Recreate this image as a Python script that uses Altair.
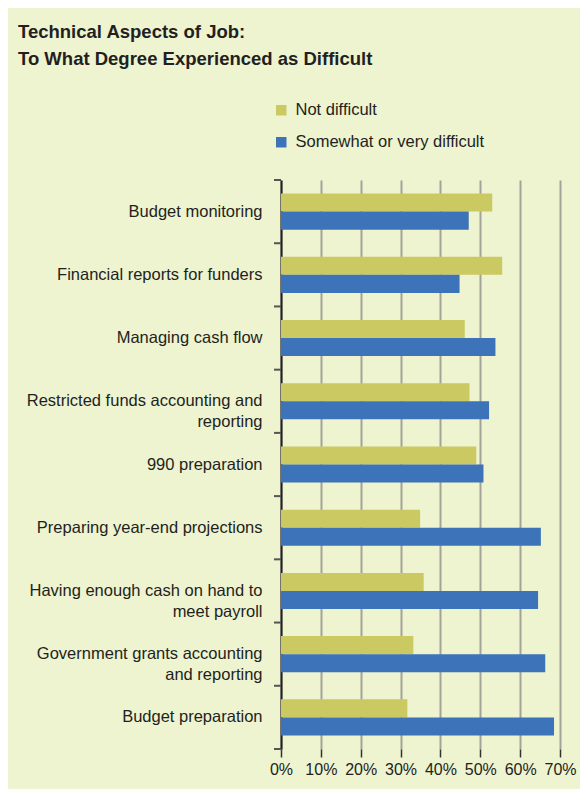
import altair as alt
import pandas as pd

categories = [
    "Budget monitoring",
    "Financial reports for funders",
    "Managing cash flow",
    "Restricted funds accounting and|reporting",
    "990 preparation",
    "Preparing year-end projections",
    "Having enough cash on hand to|meet payroll",
    "Government grants accounting|and reporting",
    "Budget preparation",
]
not_difficult = [53.0, 55.5, 46.1, 47.3, 49.0, 34.9, 35.8, 33.2, 31.7]
difficult = [47.1, 44.8, 53.8, 52.2, 50.8, 65.2, 64.5, 66.3, 68.5]
series = ["Not difficult", "Somewhat or very difficult"]
colors = ["#cbc962", "#3c73b9"]
x_ticks = [0, 10, 20, 30, 40, 50, 60, 70]

rows = []
for c, a, b in zip(categories, not_difficult, difficult):
    rows.append({"category": c, "series": series[0], "value": a})
    rows.append({"category": c, "series": series[1], "value": b})
df = pd.DataFrame(rows)
cat_df = pd.DataFrame({"category": categories})
last_df = pd.DataFrame({"category": categories[-1:]})

FONT = "Liberation Sans"
BG = "#eef3d0"

ysc = alt.Scale(paddingInner=0, paddingOuter=0)

bars = alt.Chart(df).mark_bar().encode(
    x=alt.X(
        "value:Q",
        scale=alt.Scale(domain=[0, 70], nice=False),
        axis=alt.Axis(
            values=x_ticks,
            labelExpr="datum.value + '%'",
            labelOverlap=False,
            labelFlush=False,
            grid=True,
            gridColor="#a3a39a",
            gridWidth=2,
            domain=False,
            tickColor="#333333",
            tickSize=8,
            tickWidth=1.5,
            labelFontSize=16,
            labelColor="#231f20",
            labelPadding=4,
            title=None,
        ),
    ),
    y=alt.Y(
        "category:N",
        sort=categories,
        scale=ysc,
        axis=alt.Axis(
            title=None,
            labelExpr="split(datum.label, '|')",
            ticks=False,
            grid=False,
            domainColor="#231f20",
            domainWidth=2,
            labelFontSize=16.5,
            labelColor="#231f20",
            labelPadding=19,
            labelLimit=320,
            labelLineHeight=21,
        ),
    ),
    yOffset=alt.YOffset("series:N", sort=series, scale=alt.Scale(paddingOuter=0.75, paddingInner=0)),
    color=alt.Color(
        "series:N",
        sort=series,
        scale=alt.Scale(domain=series, range=colors),
        legend=alt.Legend(
            title=None,
            orient="none",
            legendX=-8,
            legendY=-78,
            symbolType="square",
            symbolSize=110,
            symbolStrokeWidth=0,
            labelFontSize=16.5,
            labelColor="#231f20",
            labelOffset=6,
            labelLimit=300,
            rowPadding=15,
            padding=0,
        ),
    ),
)

ticks_top = alt.Chart(cat_df).mark_rule(color="#555555", strokeWidth=2).encode(
    y=alt.Y("category:N", sort=categories, scale=ysc, bandPosition=0),
    x=alt.value(-7),
    x2=alt.value(0),
)
ticks_bottom = alt.Chart(last_df).mark_rule(color="#555555", strokeWidth=2).encode(
    y=alt.Y("category:N", sort=categories, scale=ysc, bandPosition=1),
    x=alt.value(-7),
    x2=alt.value(0),
)

chart = alt.layer(bars, ticks_top, ticks_bottom).properties(
    width=279,
    height=569,
    background=BG,
    autosize=alt.AutoSizeParams(type="none"),
    padding={"left": 273, "top": 172, "right": 20, "bottom": 40},
    title=alt.Title(
        ["Technical Aspects of Job:", "To What Degree Experienced as Difficult"],
        anchor="start",
        frame="group",
        dx=-263,
        fontSize=18.5,
        font=FONT,
        fontWeight="bold",
        color="#231f20",
        lineHeight=27,
        offset=34,
    ),
).configure(font=FONT).configure_view(stroke=None)

chart.save("out.html", embed_options={"renderer": "svg", "actions": False})
